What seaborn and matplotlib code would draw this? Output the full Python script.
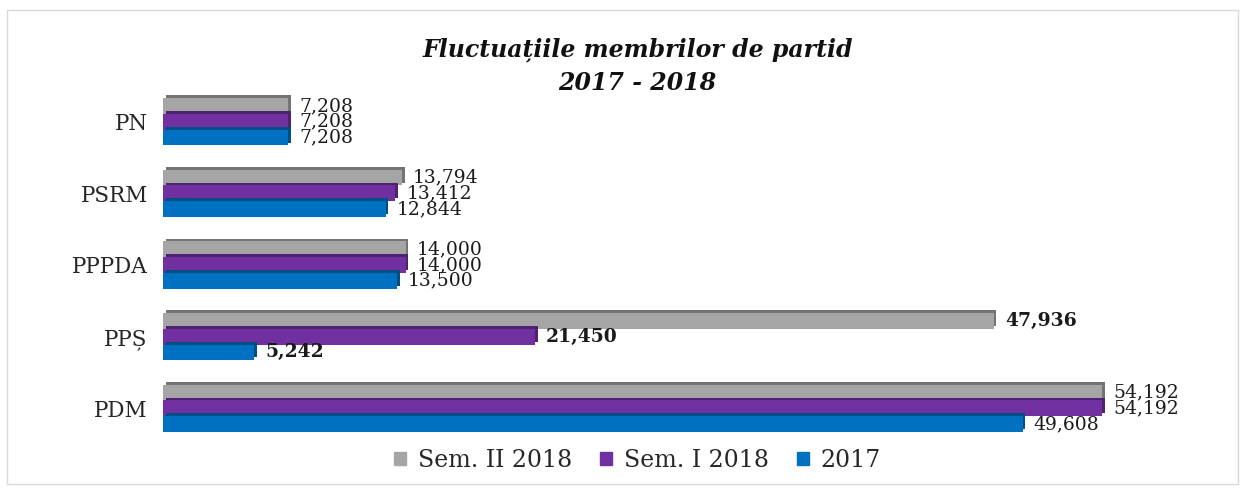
import pandas as pd
import numpy as np
import matplotlib
matplotlib.use("Agg")
import matplotlib.pyplot as plt
import matplotlib.patheffects as pe
import seaborn as sns

sns.set_style("white")
plt.rcParams['font.family'] = ['DejaVu Serif']

partide = ["PN", "PSRM", "PPPDA", "PPȘ", "PDM"]
perioade = ["Sem. II 2018", "Sem. I 2018", "2017"]
sem2_2018 = [7208, 13794, 14000, 47936, 54192]
sem1_2018 = [7208, 13412, 14000, 21450, 54192]
an_2017 = [7208, 12844, 13500, 5242, 49608]
culori = ["#A5A5A5", "#7030A0", "#0070C0"]

df = pd.DataFrame({
    "Partid": partide * 3,
    "Perioada": [perioade[0]] * 5 + [perioade[1]] * 5 + [perioade[2]] * 5,
    "Membri": sem2_2018 + sem1_2018 + an_2017,
})

fig = plt.figure(figsize=(12.45, 4.88), dpi=100)
ax = fig.add_axes([0.131, 0.09, 0.835, 0.734])
sns.barplot(data=df, y="Partid", x="Membri", hue="Perioada", order=partide,
            hue_order=perioade, palette=culori, orient="h", width=0.66,
            saturation=1, linewidth=0, ax=ax, legend=False)

# pseudo 3D depth on bars (top face + right side)
for bar in ax.patches:
    bar.set_linewidth(0)
    bar.set_path_effects([pe.SimplePatchShadow(offset=(2, 2), shadow_rgbFace=None, alpha=1, rho=0.7),
                          pe.Normal()])

for cont in ax.containers:
    txts = ax.bar_label(cont, labels=[f"{v:,.0f}" for v in cont.datavalues],
                        padding=8, fontsize=13.5, color="#1a1a1a")
    txts[3].set_fontweight("bold")

ax.set_xlim(0, 60000)
ax.set_xlabel("")
ax.set_ylabel("")
ax.set_xticks([])
ax.tick_params(axis="y", length=0, labelsize=15.5, pad=11)
sns.despine(ax=ax, left=True, bottom=True)

fig.text(0.512, 0.864, "Fluctuațiile membrilor de partid\n2017 - 2018", ha="center", va="center",
         fontsize=17, fontweight="bold", fontstyle="italic", linespacing=1.45, color="#111111")

handles = [plt.Rectangle((0, 0), 1, 1, color=c) for c in culori]
fig.legend(handles, perioade, loc="center", bbox_to_anchor=(0.512, 0.057), ncol=3, frameon=False,
           fontsize=17, handlelength=0.5, handleheight=0.5, handletextpad=0.5, columnspacing=1.2)

fig.patches.append(plt.Rectangle((0.006, 0.008), 0.988, 0.972, transform=fig.transFigure,
                                 fill=False, edgecolor="#D9D9D9", linewidth=1))

plt.savefig("out.png", dpi=100)
